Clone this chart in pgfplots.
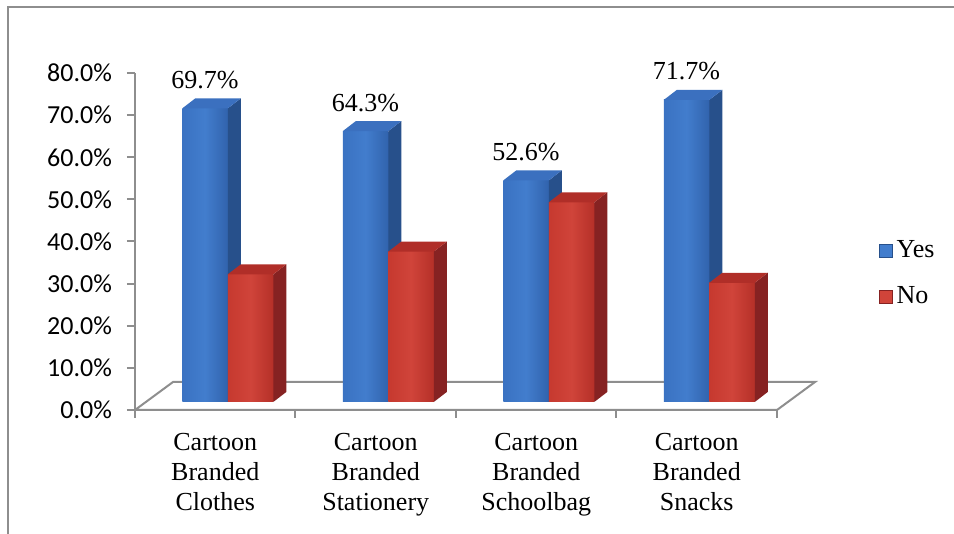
\documentclass[border=0pt]{standalone}
\usepackage{fontspec}
\setmainfont{Liberation Serif}
\newfontfamily\calibri{Carlito}
\usepackage{pgfplots}
\pgfplotsset{compat=1.18}

\definecolor{yesleft}{HTML}{3A72C2}
\definecolor{yesmid}{HTML}{427DCD}
\definecolor{yesright}{HTML}{3163AD}
\definecolor{yesside}{HTML}{27508B}
\definecolor{yestop}{HTML}{3B70BF}
\definecolor{noleft}{HTML}{C6392F}
\definecolor{nomid}{HTML}{D0443A}
\definecolor{noright}{HTML}{B53028}
\definecolor{noside}{HTML}{862222}
\definecolor{notop}{HTML}{B02E28}
\definecolor{framegray}{HTML}{8E8E8E}

\newcommand\lbl{\fontsize{13}{15}\selectfont}

% One 3-D box: #1 category, #2 slot (0 = Yes, 1 = No), #3 value,
% #4 colour prefix (yes / no)
\newcommand\cube[4]{%
  \pgfmathsetmacro\xl{#1-0.2055+#2*0.2835}%
  \pgfmathsetmacro\xr{\xl+0.2835}%
  \pgfmathsetmacro\xdl{\xl+0.081}%
  \pgfmathsetmacro\xdr{\xr+0.081}%
  \pgfmathsetmacro\yb{1.9}%
  \pgfmathsetmacro\ydb{1.9+2.374}%
  \pgfmathsetmacro\yt{1.9+#3}%
  \pgfmathsetmacro\ydt{1.9+2.374+#3}%
  \addplot[forget plot, draw=none, left color=#4left, right color=#4right, middle color=#4mid]
    coordinates {(\xl,\yb) (\xr,\yb) (\xr,\yt) (\xl,\yt)} -- cycle;
  \addplot[forget plot, draw=none, fill=#4side]
    coordinates {(\xr,\yb) (\xdr,\ydb) (\xdr,\ydt) (\xr,\yt)} -- cycle;
  \addplot[forget plot, draw=none, fill=#4top]
    coordinates {(\xl,\yt) (\xr,\yt) (\xdr,\ydt) (\xdl,\ydt)} -- cycle;
}

% Value label above a Yes box: #1 category, #2 value
\newcommand\barlabel[2]{%
  \pgfmathsetmacro\xc{#1-0.2055+0.14175}%
  \pgfmathsetmacro\yt{1.9+#2}%
  \edef\next{\noexpand\node[anchor=base, yshift=10pt, font=\noexpand\lbl, inner sep=0pt]
    at (axis cs:\xc,\yt) {\noexpand\pgfmathprintnumber[fixed,fixed zerofill,precision=1]{#2}\noexpand\%};}%
  \next
}

\begin{document}
\begin{tikzpicture}
\begin{axis}[
  at={(0,0)}, anchor=south west,
  scale only axis, width=321pt, height=168.5pt,
  xmin=-0.5, xmax=3.5, ymin=0, ymax=80,
  clip=false,
  axis x line*=bottom, axis y line*=left,
  axis line style={draw=framegray, line width=1pt},
  tick align=outside,
  ytick={0,10,...,80},
  major tick length=4pt,
  minor tick length=4pt,
  ytick style={draw=framegray, line width=1pt},
  /pgf/number format/assume math mode=true,
  yticklabel={\pgfmathprintnumber[fixed,fixed zerofill,precision=1]{\tick}\%},
  yticklabel style={font=\calibri\lbl, xshift=-4pt},
  xtick={0,1,2,3},
  minor xtick={-0.5,0.5,1.5,2.5,3.5},
  major x tick style={draw=none},
  minor x tick style={draw=framegray, line width=1pt},
  xticklabels={{Cartoon\\Branded\\Clothes},{Cartoon\\Branded\\Stationery},{Cartoon\\Branded\\Schoolbag},{Cartoon\\Branded\\Snacks}},
  xticklabel style={font=\lbl, align=center, yshift=-4pt},
  legend style={at={(1.158,0.404)}, anchor=west, draw=none, fill=none, font=\lbl,
    row sep=9pt, inner sep=0pt},
  legend cell align=left,
]
% floor
\addplot[forget plot, fill=white, draw=framegray, line width=1pt]
  coordinates {(-0.5,0) (3.5,0) (3.7368,6.647) (-0.2632,6.647)} -- cycle;

% Yes / No shares per category
\cube{0}{0}{69.7}{yes}
\cube{0}{1}{30.3}{no}
\cube{1}{0}{64.3}{yes}
\cube{1}{1}{35.7}{no}
\cube{2}{0}{52.6}{yes}
\cube{2}{1}{47.4}{no}
\cube{3}{0}{71.7}{yes}
\cube{3}{1}{28.3}{no}

\barlabel{0}{69.7}
\barlabel{1}{64.3}
\barlabel{2}{52.6}
\barlabel{3}{71.7}

\addlegendimage{legend image code/.code={\fill[yesmid, draw=yesside] (0pt,-3.25pt) rectangle (6.5pt,3.25pt);}}
\addlegendentry{Yes}
\addlegendimage{legend image code/.code={\fill[nomid, draw=noside] (0pt,-3.25pt) rectangle (6.5pt,3.25pt);}}
\addlegendentry{No}
\end{axis}
% outer frame
\draw[framegray, line width=0.8pt] (-63.5pt,-62pt) -- (-63.5pt,201.5pt) -- (409.5pt,201.5pt);
\pgfresetboundingbox
\path[use as bounding box] (-67.5pt,-62pt) rectangle (409.5pt,205pt);
\end{tikzpicture}
\end{document}
